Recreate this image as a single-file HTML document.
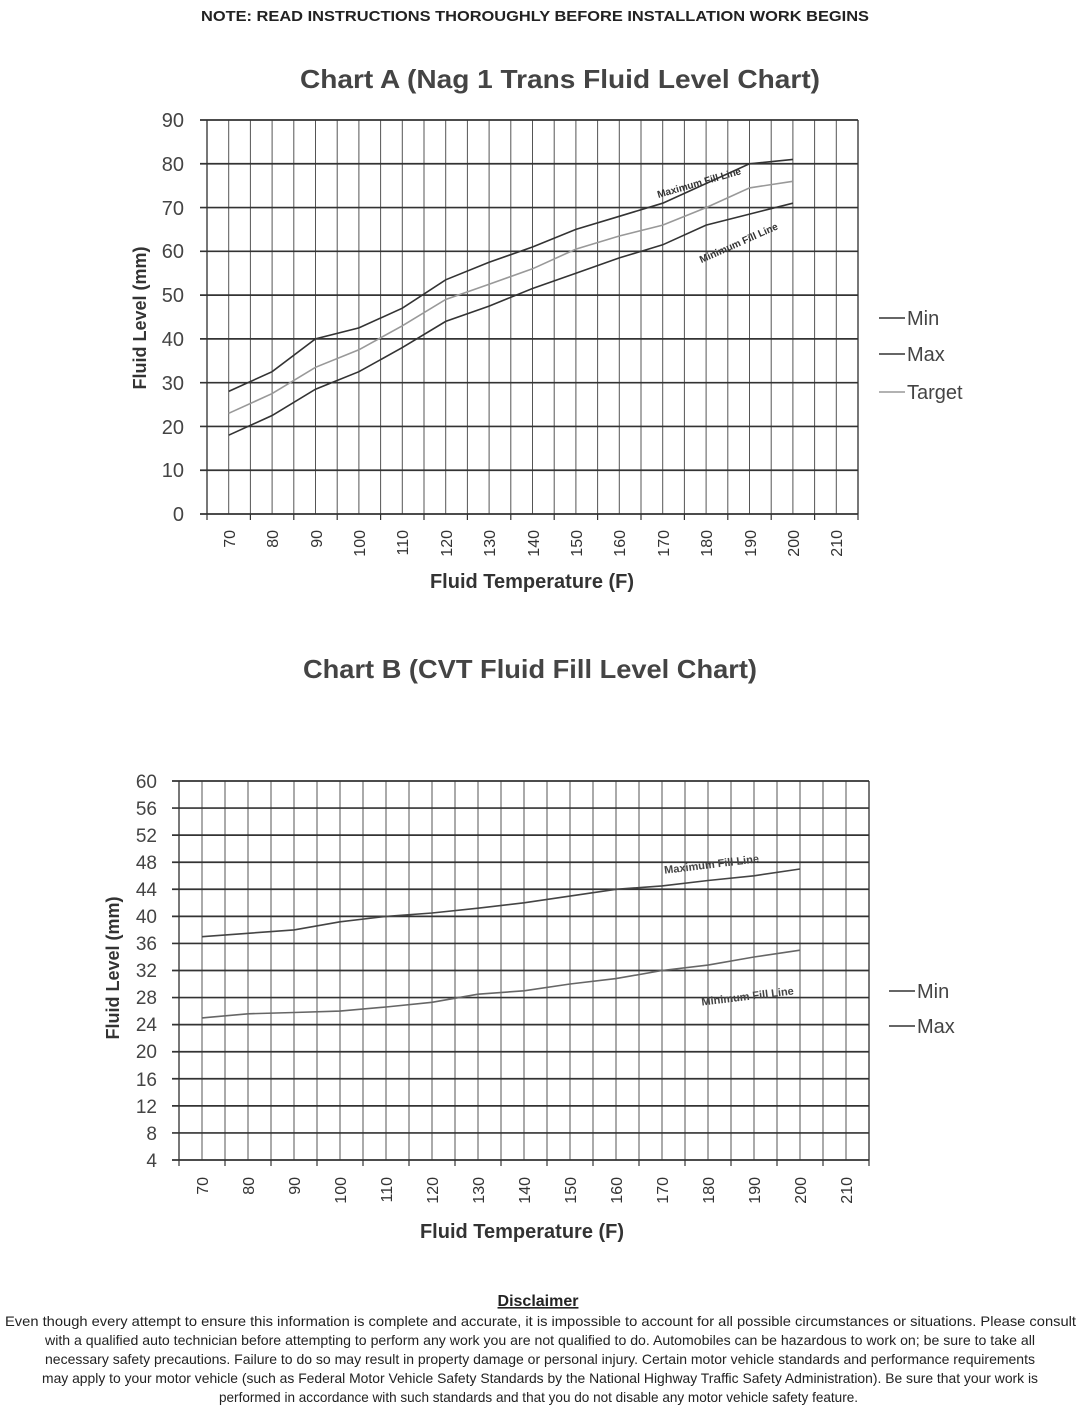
<!DOCTYPE html>
<html><head><meta charset="utf-8"><style>
html,body{margin:0;padding:0;background:#fff;}
svg{display:block;font-family:"Liberation Sans",sans-serif;}
</style></head><body>
<svg id="s" width="1084" height="1414" viewBox="0 0 1084 1414" xmlns="http://www.w3.org/2000/svg">
<rect width="1084" height="1414" fill="#fff"/>
<text x="201" y="21" font-size="15" font-weight="bold" fill="#222" textLength="668" lengthAdjust="spacingAndGlyphs">NOTE: READ INSTRUCTIONS THOROUGHLY BEFORE INSTALLATION WORK BEGINS</text>
<text x="300" y="88" font-size="26" font-weight="bold" fill="#444" textLength="520" lengthAdjust="spacingAndGlyphs">Chart A (Nag 1 Trans Fluid Level Chart)</text>
<g id="gA" stroke="#333" fill="none"></g>
<g font-size="20" fill="#444" text-anchor="end">
<text x="184" y="127">90</text><text x="184" y="171">80</text><text x="184" y="215">70</text><text x="184" y="258">60</text><text x="184" y="302">50</text><text x="184" y="346">40</text><text x="184" y="390">30</text><text x="184" y="434">20</text><text x="184" y="477">10</text><text x="184" y="521">0</text>
</g>
<g font-size="16" fill="#333" text-anchor="end">
<text transform="translate(235,530) rotate(-90)">70</text><text transform="translate(278,530) rotate(-90)">80</text><text transform="translate(322,530) rotate(-90)">90</text><text transform="translate(365,530) rotate(-90)">100</text><text transform="translate(408,530) rotate(-90)">110</text><text transform="translate(452,530) rotate(-90)">120</text><text transform="translate(495,530) rotate(-90)">130</text><text transform="translate(539,530) rotate(-90)">140</text><text transform="translate(582,530) rotate(-90)">150</text><text transform="translate(625,530) rotate(-90)">160</text><text transform="translate(669,530) rotate(-90)">170</text><text transform="translate(712,530) rotate(-90)">180</text><text transform="translate(756,530) rotate(-90)">190</text><text transform="translate(799,530) rotate(-90)">200</text><text transform="translate(842,530) rotate(-90)">210</text>
</g>
<text x="532" y="588" font-size="20" font-weight="bold" text-anchor="middle" fill="#333">Fluid Temperature (F)</text>
<text transform="translate(146,318) rotate(-90)" font-size="18" font-weight="bold" text-anchor="middle" fill="#333">Fluid Level (mm)</text>
<text transform="translate(700,186) rotate(-16)" font-size="10" font-weight="bold" text-anchor="middle" fill="#333">Maximum Fill Line</text>
<text transform="translate(740,246) rotate(-24)" font-size="10" font-weight="bold" text-anchor="middle" fill="#333">Minimum Fill Line</text>
<g font-size="20" fill="#444">
<line x1="879" y1="318" x2="905" y2="318" stroke="#333" stroke-width="1.5"/><text x="907" y="325">Min</text>
<line x1="879" y1="354" x2="905" y2="354" stroke="#333" stroke-width="1.5"/><text x="907" y="361">Max</text>
<line x1="879" y1="392" x2="905" y2="392" stroke="#999" stroke-width="1.5"/><text x="907" y="399">Target</text>
</g>

<text x="303" y="678" font-size="26" font-weight="bold" fill="#444" textLength="454" lengthAdjust="spacingAndGlyphs">Chart B (CVT Fluid Fill Level Chart)</text>
<g id="gB" stroke="#333" fill="none"></g>
<g font-size="19" fill="#444" text-anchor="end">
<text x="157" y="788">60</text><text x="157" y="815">56</text><text x="157" y="842">52</text><text x="157" y="869">48</text><text x="157" y="896">44</text><text x="157" y="923">40</text><text x="157" y="950">36</text><text x="157" y="977">32</text><text x="157" y="1004">28</text><text x="157" y="1031">24</text><text x="157" y="1058">20</text><text x="157" y="1086">16</text><text x="157" y="1113">12</text><text x="157" y="1140">8</text><text x="157" y="1167">4</text>
</g>
<g font-size="16" fill="#333" text-anchor="end">
<text transform="translate(208,1177) rotate(-90)">70</text><text transform="translate(254,1177) rotate(-90)">80</text><text transform="translate(300,1177) rotate(-90)">90</text><text transform="translate(346,1177) rotate(-90)">100</text><text transform="translate(392,1177) rotate(-90)">110</text><text transform="translate(438,1177) rotate(-90)">120</text><text transform="translate(484,1177) rotate(-90)">130</text><text transform="translate(530,1177) rotate(-90)">140</text><text transform="translate(576,1177) rotate(-90)">150</text><text transform="translate(622,1177) rotate(-90)">160</text><text transform="translate(668,1177) rotate(-90)">170</text><text transform="translate(714,1177) rotate(-90)">180</text><text transform="translate(760,1177) rotate(-90)">190</text><text transform="translate(806,1177) rotate(-90)">200</text><text transform="translate(852,1177) rotate(-90)">210</text>
</g>
<text x="522" y="1238" font-size="20" font-weight="bold" text-anchor="middle" fill="#333">Fluid Temperature (F)</text>
<text transform="translate(119,968) rotate(-90)" font-size="18" font-weight="bold" text-anchor="middle" fill="#333">Fluid Level (mm)</text>
<text transform="translate(712,868) rotate(-7)" font-size="11" font-weight="bold" text-anchor="middle" fill="#444">Maximum Fill Line</text>
<text transform="translate(748,1000) rotate(-7)" font-size="11" font-weight="bold" text-anchor="middle" fill="#444">Minimum Fill Line</text>
<g font-size="20" fill="#444">
<line x1="889" y1="991" x2="915" y2="991" stroke="#333" stroke-width="1.5"/><text x="917" y="998">Min</text>
<line x1="889" y1="1026" x2="915" y2="1026" stroke="#333" stroke-width="1.5"/><text x="917" y="1033">Max</text>
</g>

<text x="538" y="1306" font-size="16" font-weight="bold" text-anchor="middle" fill="#222" text-decoration="underline">Disclaimer</text>
<g font-size="14" fill="#222" lengthAdjust="spacingAndGlyphs">
<text x="5" y="1326" textLength="1071" lengthAdjust="spacingAndGlyphs">Even though every attempt to ensure this information is complete and accurate, it is impossible to account for all possible circumstances or situations.  Please consult</text>
<text x="45" y="1345" textLength="990" lengthAdjust="spacingAndGlyphs">with a qualified auto technician before attempting to perform any work you are not qualified to do.  Automobiles can be hazardous to work on; be sure to take all</text>
<text x="45" y="1364" textLength="990" lengthAdjust="spacingAndGlyphs">necessary safety precautions.  Failure to do so may result in property damage or personal injury.  Certain motor vehicle standards and performance requirements</text>
<text x="42" y="1383" textLength="996" lengthAdjust="spacingAndGlyphs">may apply to your motor vehicle (such as Federal Motor Vehicle Safety Standards by the National Highway Traffic Safety Administration).  Be sure that your work is</text>
<text x="219" y="1402" textLength="639" lengthAdjust="spacingAndGlyphs">performed in accordance with such standards and that you do not disable any motor vehicle safety feature.</text>
</g>
</svg>
<script>
function chart(id,L,R,T,B,ymin,ymax,ystep,series){
  var g=document.getElementById(id),h='';
  var n=15,cw=(R-L)/n,ny=(ymax-ymin)/ystep,rh=(B-T)/ny;
  for(var i=0;i<=2*n;i++){var x=L+i*cw/2;h+='<line x1="'+x+'" y1="'+T+'" x2="'+x+'" y2="'+B+'" stroke-width="'+(i==0||i==2*n?1.6:1)+'" stroke="#555"/>';}
  for(var i=0;i<=n;i++){var x=L+i*cw;h+='<line x1="'+x+'" y1="'+B+'" x2="'+x+'" y2="'+(B+6)+'" stroke-width="1.2"/>';}
  for(var j=0;j<=ny;j++){var y=T+j*rh;h+='<line x1="'+(L-7)+'" y1="'+y+'" x2="'+R+'" y2="'+y+'" stroke-width="1.7"/>';}
  series.forEach(function(s){var p=s.d.map(function(v,i){return (L+cw*(i+0.5)).toFixed(1)+','+(B-(v-ymin)/(ymax-ymin)*(B-T)).toFixed(1);}).join(' ');
    h+='<polyline points="'+p+'" stroke="'+s.c+'" stroke-width="1.6"/>';});
  g.innerHTML=h;
}
chart('gA',207,858,120,514,0,90,10,[
 {c:'#333',d:[28,32.5,40,42.5,47,53.5,57.5,61,65,68,71,75.5,80,81]},
 {c:'#999',d:[23,27.5,33.5,37.5,43,49,52.5,56,60.5,63.5,66,70,74.5,76]},
 {c:'#333',d:[18,22.5,28.5,32.5,38,44,47.5,51.5,55,58.5,61.5,66,68.5,71]}]);
chart('gB',179,869,781,1160,4,60,4,[
 {c:'#444',d:[37,37.5,38,39.2,40,40.5,41.2,42,43,44,44.5,45.3,46,47]},
 {c:'#666',d:[25,25.6,25.8,26,26.6,27.3,28.5,29,30,30.8,32,32.8,34,35]}]);
</script>
</body></html>
